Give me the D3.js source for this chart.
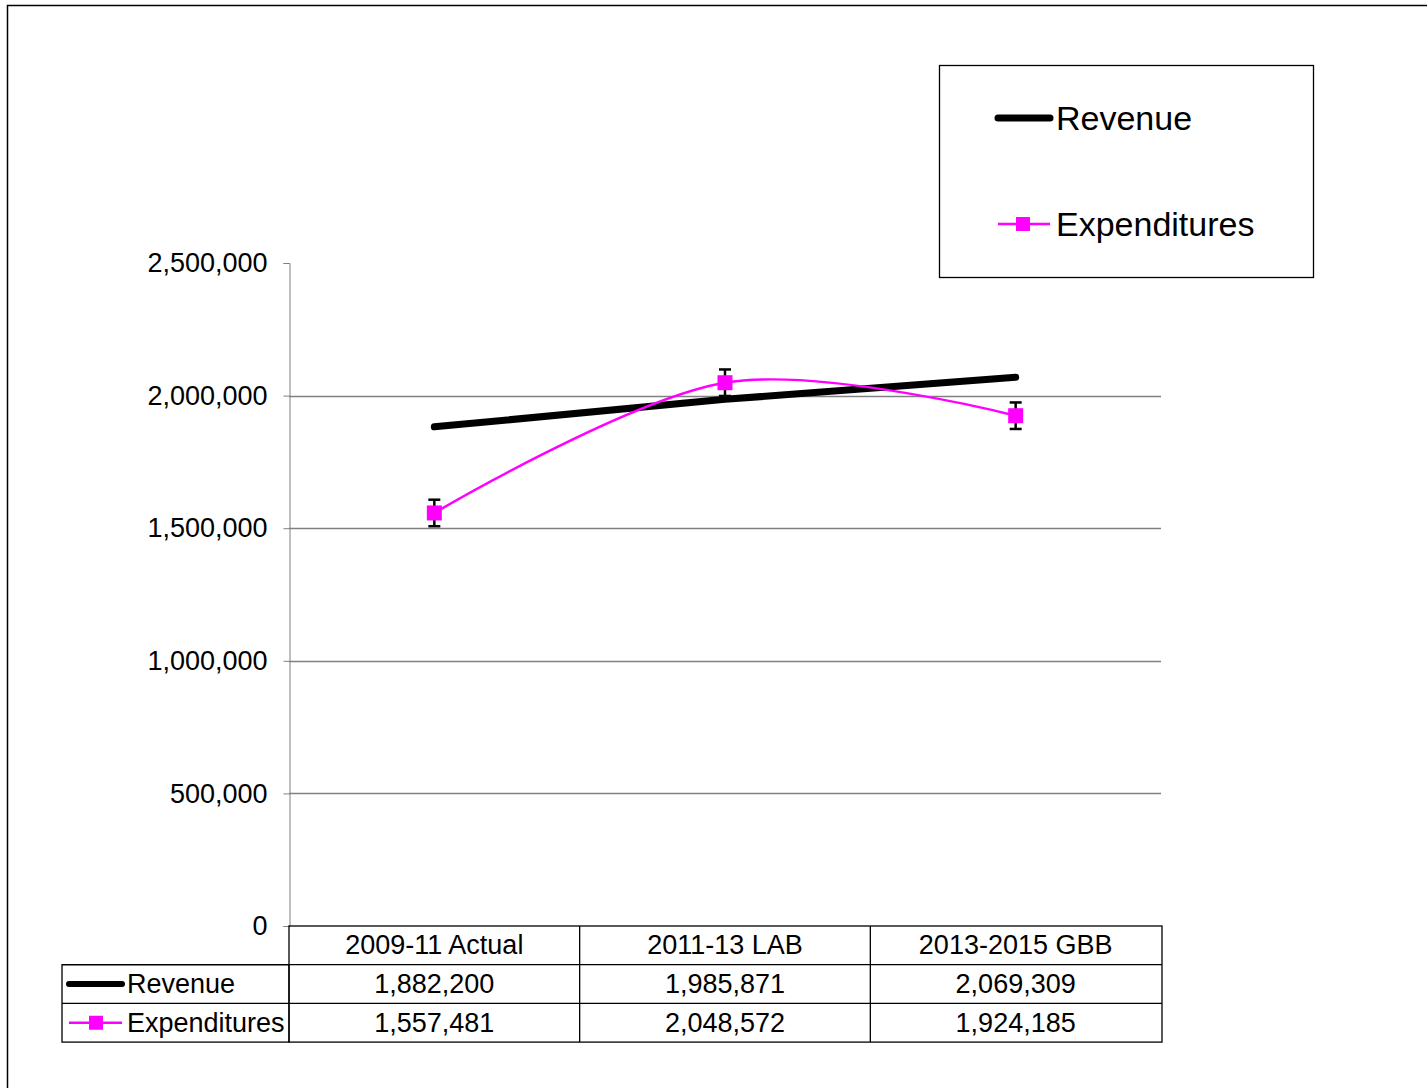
<!DOCTYPE html>
<html>
<head>
<meta charset="utf-8">
<script src="https://cdn.jsdelivr.net/npm/d3@7"></script>
<style>
  body { margin: 0; background: #fff; }
  svg { font-family: "Liberation Sans", Arial, sans-serif; }
</style>
</head>
<body>
<svg id="chart" width="1427" height="1088"></svg>
<script>
// data
var categories = ["2009-11 Actual", "2011-13 LAB", "2013-2015 GBB"];
var revenue = [1882200, 1985871, 2069309];
var expenditures = [1557481, 2048572, 1924185];
var yTicks = [0, 500000, 1000000, 1500000, 2000000, 2500000];
var errorAmount = 50000;

var svg = d3.select("#chart");
var plotLeft = 289, plotRight = 1161, plotTop = 263, plotBottom = 926;
var fs = 27;

// outer frame
svg.append("rect")
  .attr("x", 7.5).attr("y", 5.5)
  .attr("width", 1440).attr("height", 1100)
  .attr("fill", "none").attr("stroke", "#000").attr("stroke-width", 1.5);

var x = d3.scaleBand().domain(categories).range([plotLeft, plotRight]);
var y = d3.scaleLinear().domain([0, 2500000]).range([plotBottom, plotTop]);
var fmt = d3.format(",");

// gridlines (none on the top tick)
svg.append("g").selectAll("line")
  .data(yTicks.filter(function(d) { return d > 0 && d < 2500000; }))
  .enter().append("line")
  .attr("x1", plotLeft).attr("x2", plotRight)
  .attr("y1", function(d) { return Math.round(y(d)) + 0.5; })
  .attr("y2", function(d) { return Math.round(y(d)) + 0.5; })
  .attr("stroke", "#808080").attr("stroke-width", 1.3);

// y axis
var yAxis = d3.axisLeft(y).tickValues(yTicks).tickFormat(fmt).tickSize(6).tickPadding(16);
var ya = svg.append("g").attr("transform", "translate(" + (plotLeft + 0.5) + ",0)").call(yAxis);
ya.select(".domain").attr("stroke", "#808080");
ya.selectAll(".tick line").attr("stroke", "#808080");
ya.selectAll("text").attr("font-size", fs).attr("fill", "#000")
  .attr("font-family", "Liberation Sans, Arial, sans-serif");

// revenue line
var cx = function(d, i) { return x(categories[i]) + x.bandwidth() / 2; };
svg.append("path")
  .datum(revenue)
  .attr("d", d3.line().x(cx).y(function(d) { return y(d); }))
  .attr("fill", "none").attr("stroke", "#000")
  .attr("stroke-width", 7).attr("stroke-linecap", "round");

// expenditures smoothed line
svg.append("path")
  .datum(expenditures)
  .attr("d", d3.line().x(cx).y(function(d) { return y(d); }).curve(d3.curveCatmullRom.alpha(0)))
  .attr("fill", "none").attr("stroke", "#ff00ff").attr("stroke-width", 2.5);

// error bars
var eb = svg.append("g").selectAll("g").data(expenditures).enter().append("g");
eb.append("line")
  .attr("x1", cx).attr("x2", cx)
  .attr("y1", function(d) { return y(d + errorAmount); })
  .attr("y2", function(d) { return y(d - errorAmount); })
  .attr("stroke", "#000").attr("stroke-width", 2.5);
[1, -1].forEach(function(s) {
  eb.append("line")
    .attr("x1", function(d, i) { return cx(d, i) - 6; })
    .attr("x2", function(d, i) { return cx(d, i) + 6; })
    .attr("y1", function(d) { return y(d + s * errorAmount); })
    .attr("y2", function(d) { return y(d + s * errorAmount); })
    .attr("stroke", "#000").attr("stroke-width", 2.5);
});

// markers
svg.append("g").selectAll("rect").data(expenditures).enter().append("rect")
  .attr("x", function(d, i) { return cx(d, i) - 7.5; })
  .attr("y", function(d) { return y(d) - 7.5; })
  .attr("width", 15).attr("height", 15)
  .attr("fill", "#ff00ff");

// data table
var rowH = 38.7, tblLeft = 62;
var tbl = svg.append("g").attr("stroke", "#000").attr("stroke-width", 1.3);
tbl.append("rect").attr("x", plotLeft).attr("y", plotBottom).attr("width", plotRight - plotLeft + 1).attr("height", rowH * 3).attr("fill", "none");
tbl.append("rect").attr("x", tblLeft).attr("y", plotBottom + rowH).attr("width", plotLeft - tblLeft).attr("height", rowH * 2).attr("fill", "none");
[1, 2].forEach(function(r) {
  tbl.append("line").attr("x1", tblLeft).attr("x2", plotRight + 1)
    .attr("y1", plotBottom + rowH * r).attr("y2", plotBottom + rowH * r);
});
categories.slice(1).forEach(function(c) {
  tbl.append("line").attr("x1", x(c)).attr("x2", x(c))
    .attr("y1", plotBottom).attr("y2", plotBottom + rowH * 3);
});

var tcx = function(d, i) { return x(categories[i]) + x.bandwidth() / 2; };
svg.append("g").selectAll("text").data(categories).enter().append("text")
  .attr("x", tcx).attr("y", plotBottom + rowH / 2 + 9)
  .attr("text-anchor", "middle").attr("font-size", fs).text(function(d) { return d; });
[revenue, expenditures].forEach(function(series, r) {
  svg.append("g").selectAll("text").data(series).enter().append("text")
    .attr("x", tcx).attr("y", plotBottom + rowH * (r + 1) + rowH / 2 + 9)
    .attr("text-anchor", "middle").attr("font-size", fs).text(fmt);
});

// table legend keys
var r1 = plotBottom + rowH * 1.5, r2 = plotBottom + rowH * 2.5;
svg.append("line").attr("x1", 69).attr("x2", 122).attr("y1", r1).attr("y2", r1)
  .attr("stroke", "#000").attr("stroke-width", 6).attr("stroke-linecap", "round");
svg.append("text").attr("x", 127).attr("y", r1 + 9).attr("font-size", fs).text("Revenue");
svg.append("line").attr("x1", 69).attr("x2", 122).attr("y1", r2).attr("y2", r2)
  .attr("stroke", "#ff00ff").attr("stroke-width", 2.5);
svg.append("rect").attr("x", 89).attr("y", r2 - 7).attr("width", 14).attr("height", 14).attr("fill", "#ff00ff");
svg.append("text").attr("x", 127).attr("y", r2 + 9).attr("font-size", fs).text("Expenditures");

// legend box
var lg = svg.append("g");
lg.append("rect").attr("x", 939.5).attr("y", 65.5).attr("width", 374).attr("height", 212)
  .attr("fill", "#fff").attr("stroke", "#000").attr("stroke-width", 1.3);
lg.append("line").attr("x1", 998).attr("x2", 1050).attr("y1", 118).attr("y2", 118)
  .attr("stroke", "#000").attr("stroke-width", 7).attr("stroke-linecap", "round");
lg.append("text").attr("x", 1056).attr("y", 130).attr("font-size", 34).text("Revenue");
lg.append("line").attr("x1", 998).attr("x2", 1050).attr("y1", 224).attr("y2", 224)
  .attr("stroke", "#ff00ff").attr("stroke-width", 2.5);
lg.append("rect").attr("x", 1016).attr("y", 217).attr("width", 14).attr("height", 14).attr("fill", "#ff00ff");
lg.append("text").attr("x", 1056).attr("y", 236).attr("font-size", 34).text("Expenditures");
</script>
</body>
</html>
